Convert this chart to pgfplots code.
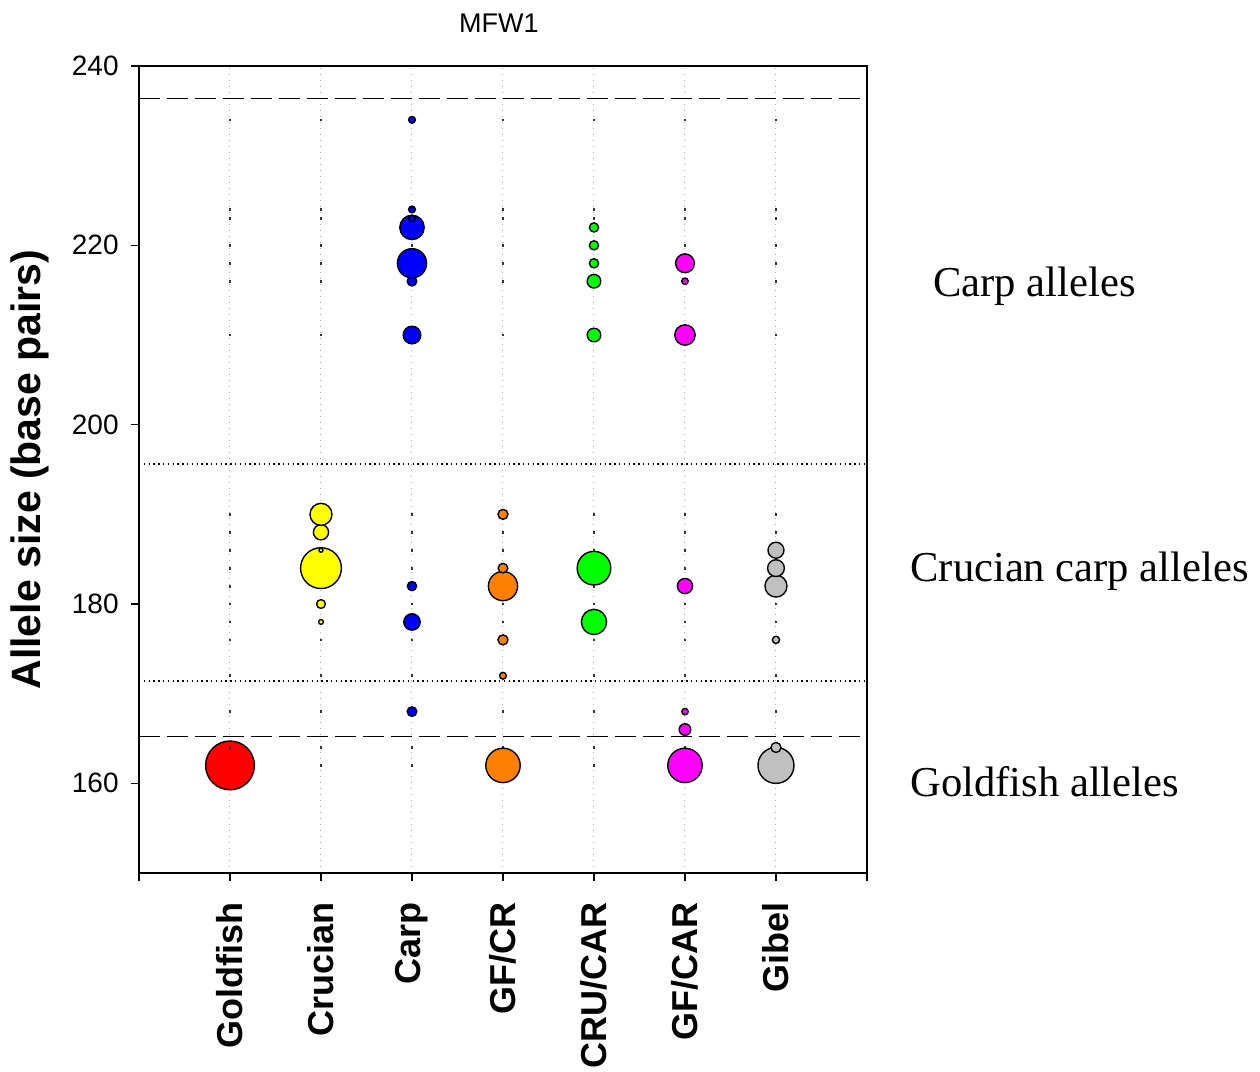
\documentclass[border=0pt]{standalone}
\usepackage{fontspec}
\setmainfont{Liberation Sans}
\newfontfamily\seriffont{Liberation Serif}
\usepackage{pgfplots}
\pgfplotsset{compat=1.18}
\definecolor{cRed}{RGB}{255,0,0}
\definecolor{cYellow}{RGB}{255,255,0}
\definecolor{cBlue}{RGB}{0,0,255}
\definecolor{cOrange}{RGB}{255,128,0}
\definecolor{cGreen}{RGB}{0,255,0}
\definecolor{cMagenta}{RGB}{255,0,255}
\definecolor{cGray}{RGB}{192,192,192}
\definecolor{cGrid}{RGB}{176,176,176}
\pgfplotsset{bub/.style={scatter, only marks, mark=*,
  scatter/use mapped color={draw=black, fill=#1},
  visualization depends on={\thisrow{r}\as\rad},
  scatter/@pre marker code/.append style={/tikz/mark size=\rad},
  mark options={line width=0.7pt}}}
\begin{document}
\begin{tikzpicture}
\begin{axis}[
  at={(0,0)}, anchor=south west,
  scale only axis, width=364pt, height=403.5pt,
  xmin=0, xmax=8, ymin=150, ymax=240,
  xtick={0,1,2,3,4,5,6,7,8},
  xticklabels={{},Goldfish,Crucian,Carp,GF/CR,CRU/CAR,GF/CAR,Gibel,{}},
  ytick={160,180,200,220,240},
  xtick pos=bottom, ytick pos=left,
  tick align=outside, major tick length=4pt,
  tick style={black, line width=0.7pt},
  axis line style={line width=0.8pt},
  xmajorgrids, grid style={cGrid, line width=0.5pt, dash pattern=on 0.6pt off 2.4pt},
  xticklabel style={rotate=90, anchor=east, font=\fontsize{18}{20}\selectfont\bfseries, inner xsep=10.5pt},
  yticklabel style={font=\fontsize{14}{16}\selectfont, inner xsep=6pt},
  /pgf/number format/assume math mode=true,
  ylabel={Allele size (base pairs)},
  ylabel style={at={(axis description cs:-0.1497,0.5)}, anchor=center, font=\fontsize{20.5}{24}\selectfont\bfseries},
  clip=false,
]
% reference lines
\addplot[black, line width=0.6pt, dash pattern=on 10.5pt off 3.5pt] coordinates {(0,236.4) (8,236.4)};
\addplot[black, line width=0.6pt, dash pattern=on 10.5pt off 3.5pt] coordinates {(0,165.2) (8,165.2)};
\addplot[black, line width=0.7pt, dash pattern=on 0.7pt off 1.7pt] coordinates {(0,195.6) (8,195.6)};
\addplot[black, line width=0.7pt, dash pattern=on 0.7pt off 1.7pt] coordinates {(0,171.4) (8,171.4)};
% small allele dots in every column
\addplot[only marks, mark=square*, mark size=0.42pt, black!80] table[row sep=\\] {
x y \\
1 234 \\ 1 224 \\ 1 223 \\ 1 220 \\ 1 218 \\ 1 216 \\ 1 210 \\ 1 190 \\ 1 188 \\ 1 186 \\ 1 184 \\ 1 182 \\ 1 180 \\ 1 178 \\ 1 176 \\ 1 172 \\ 1 168 \\ 1 164 \\ 1 162 \\
2 234 \\ 2 224 \\ 2 223 \\ 2 220 \\ 2 218 \\ 2 216 \\ 2 210 \\ 2 190 \\ 2 188 \\ 2 186 \\ 2 184 \\ 2 182 \\ 2 180 \\ 2 178 \\ 2 176 \\ 2 172 \\ 2 168 \\ 2 164 \\ 2 162 \\
3 234 \\ 3 224 \\ 3 223 \\ 3 220 \\ 3 218 \\ 3 216 \\ 3 210 \\ 3 190 \\ 3 188 \\ 3 186 \\ 3 184 \\ 3 182 \\ 3 180 \\ 3 178 \\ 3 176 \\ 3 172 \\ 3 168 \\ 3 164 \\ 3 162 \\
4 234 \\ 4 224 \\ 4 223 \\ 4 220 \\ 4 218 \\ 4 216 \\ 4 210 \\ 4 190 \\ 4 188 \\ 4 186 \\ 4 184 \\ 4 182 \\ 4 180 \\ 4 178 \\ 4 176 \\ 4 172 \\ 4 168 \\ 4 164 \\ 4 162 \\
5 234 \\ 5 224 \\ 5 223 \\ 5 220 \\ 5 218 \\ 5 216 \\ 5 210 \\ 5 190 \\ 5 188 \\ 5 186 \\ 5 184 \\ 5 182 \\ 5 180 \\ 5 178 \\ 5 176 \\ 5 172 \\ 5 168 \\ 5 164 \\ 5 162 \\
6 234 \\ 6 224 \\ 6 223 \\ 6 220 \\ 6 218 \\ 6 216 \\ 6 210 \\ 6 190 \\ 6 188 \\ 6 186 \\ 6 184 \\ 6 182 \\ 6 180 \\ 6 178 \\ 6 176 \\ 6 172 \\ 6 168 \\ 6 164 \\ 6 162 \\
7 234 \\ 7 224 \\ 7 223 \\ 7 220 \\ 7 218 \\ 7 216 \\ 7 210 \\ 7 190 \\ 7 188 \\ 7 186 \\ 7 184 \\ 7 182 \\ 7 180 \\ 7 178 \\ 7 176 \\ 7 172 \\ 7 168 \\ 7 164 \\ 7 162 \\
};
% Goldfish
\addplot[bub=cRed] table[row sep=\\] {
x y r \\
1 162 12.2 \\
};
% Crucian
\addplot[bub=cYellow] table[row sep=\\] {
x y r \\
2 178 1.2 \\
2 180 2.2 \\
2 184 10.2 \\
2 186 1.0 \\
2 188 3.8 \\
2 190 5.5 \\
};
% Carp
\addplot[bub=cBlue] table[row sep=\\] {
x y r \\
3 168 2.4 \\
3 178 4.1 \\
3 182 2.3 \\
3 210 4.4 \\
3 216 2.4 \\
3 218 7.3 \\
3 222 6.1 \\
3 223 1.6 \\
3 224 1.7 \\
3 234 1.7 \\
};
% GF/CR
\addplot[bub=cOrange] table[row sep=\\] {
x y r \\
4 162 8.6 \\
4 172 1.7 \\
4 176 2.5 \\
4 182 7.3 \\
4 184 2.4 \\
4 190 2.5 \\
};
% CRU/CAR
\addplot[bub=cGreen] table[row sep=\\] {
x y r \\
5 178 6.3 \\
5 184 8.4 \\
5 210 3.4 \\
5 216 3.4 \\
5 218 2.3 \\
5 220 2.3 \\
5 222 2.3 \\
};
% GF/CAR
\addplot[bub=cMagenta] table[row sep=\\] {
x y r \\
6 162 8.6 \\
6 166 2.9 \\
6 168 1.6 \\
6 182 3.8 \\
6 210 5.1 \\
6 216 1.6 \\
6 218 4.7 \\
};
% Gibel
\addplot[bub=cGray] table[row sep=\\] {
x y r \\
7 162 9.0 \\
7 164 2.5 \\
7 176 1.8 \\
7 182 5.5 \\
7 184 4.2 \\
7 186 4.0 \\
};
\addplot[only marks, mark=square*, mark size=0.42pt, black!80] coordinates {(1,164)};
% annotations
\node[anchor=base west, inner sep=0pt, font=\seriffont\fontsize{21.3}{24}\selectfont] at (axis cs:8.725,214.33) {Carp alleles};
\node[anchor=base west, inner sep=0pt, font=\seriffont\fontsize{21.3}{24}\selectfont] at (axis cs:8.473,182.5) {Crucian carp alleles};
\node[anchor=base west, inner sep=0pt, font=\seriffont\fontsize{21.3}{24}\selectfont] at (axis cs:8.473,158.5) {Goldfish alleles};
\node[anchor=base, inner sep=0pt, yshift=17pt, font=\fontsize{13.5}{16}\selectfont] at (axis cs:3.956,240) {MFW1};
\end{axis}
\pgfresetboundingbox
\path[use as bounding box] (-69.5pt,-99.5pt) rectangle (560.5pt,436.5pt);
\end{tikzpicture}
\end{document}
